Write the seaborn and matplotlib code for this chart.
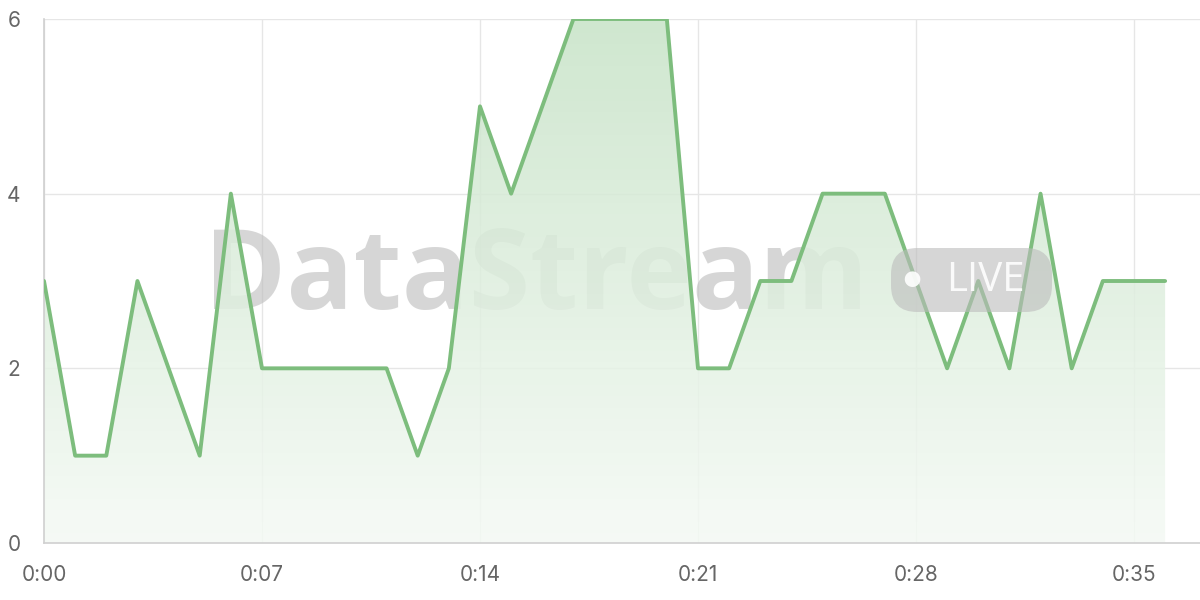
import numpy as np
import pandas as pd
import matplotlib
matplotlib.use("Agg")
import matplotlib.pyplot as plt
import seaborn as sns
from matplotlib.patches import FancyBboxPatch
from matplotlib.colors import LinearSegmentedColormap

# Data
minutes = list(range(37))
values = [3, 1, 1, 3, 2, 1, 4, 2, 2, 2, 2, 2, 1, 2, 5, 4, 5, 6, 6, 6, 6, 2,
          2, 3, 3, 4, 4, 4, 3, 2, 3, 2, 4, 2, 3, 3, 3]
x_ticks = [0, 7, 14, 21, 28, 35]
x_tick_labels = ["0:00", "0:07", "0:14", "0:21", "0:28", "0:35"]
y_ticks = [0, 2, 4, 6]

df = pd.DataFrame({"minute": minutes, "value": values})

sns.set_theme(style="white")
plt.rcParams["font.family"] = ["Inter", "DejaVu Sans"]

fig = plt.figure(figsize=(12, 6), dpi=100)
ax = fig.add_axes([44/1200, 1-543/600, 1-44/1200, (543-19)/600])

line_color = "#7dbd7d"

# Watermark (under the data)
ax.text((536-44)/1156, (543-280)/524, "DataStream", transform=ax.transAxes,
        ha="center", va="center", fontsize=80, fontweight="bold",
        color="#bcbcbc", alpha=0.6, zorder=1,
        family=["Open Sans", "DejaVu Sans"])
box = FancyBboxPatch((891/1200, 1-312/600), (1052-891)/1200, (312-248)/600,
                     boxstyle="round,pad=0,rounding_size=0.022", transform=fig.transFigure,
                     facecolor="#bcbcbc", edgecolor="none", alpha=0.6, zorder=1,
                     mutation_aspect=2)
fig.patches.append(box)
fig.text(912/1200, 1-281/600, "●", ha="center", va="center", fontsize=15,
         color="white", alpha=0.9, zorder=2)
fig.text(985/1200, 1-281/600, "LIVE", ha="center", va="center", fontsize=29,
         color="white", alpha=0.9, zorder=2, family=["Open Sans", "DejaVu Sans"])

# Gradient fill under line
xs = np.array(minutes, dtype=float)
ys = np.array(values, dtype=float)
poly = ax.fill_between(xs, ys, 0, facecolor="none", edgecolor="none")
grad = np.linspace(0, 1, 256).reshape(-1, 1)
cmap = LinearSegmentedColormap.from_list("g", [(0.96, 0.98, 0.96, 1.0), (0.78, 0.89, 0.78, 1.0)])
im = ax.imshow(grad, extent=[0, 36, 0, 6], origin="lower", aspect="auto",
               cmap=cmap, alpha=0.85, zorder=2)
im.set_clip_path(poly.get_paths()[0], transform=ax.transData)

sns.lineplot(data=df, x="minute", y="value", ax=ax, color=line_color,
             linewidth=2.8, zorder=4)

ax.set_xlim(0, 37.12)
ax.set_ylim(0, 6)
ax.set_xticks(x_ticks)
ax.set_xticklabels(x_tick_labels)
ax.set_yticks(y_ticks)
ax.set_yticklabels([str(v) for v in y_ticks])
ax.set_xlabel("")
ax.set_ylabel("")

ax.grid(True, color="#e6e6e6", linewidth=1.0, zorder=0)
ax.set_axisbelow(True)
for s in ["top", "right"]:
    ax.spines[s].set_visible(False)
for s in ["left", "bottom"]:
    ax.spines[s].set_color("#d0d0d0")
    ax.spines[s].set_linewidth(1.2)
ax.tick_params(axis="both", length=6, color="#e0e0e0", labelcolor="#666666",
               labelsize=15)
ax.tick_params(axis="x", pad=10)
ax.tick_params(axis="y", pad=11)

fig.savefig("out.png", dpi=100)
